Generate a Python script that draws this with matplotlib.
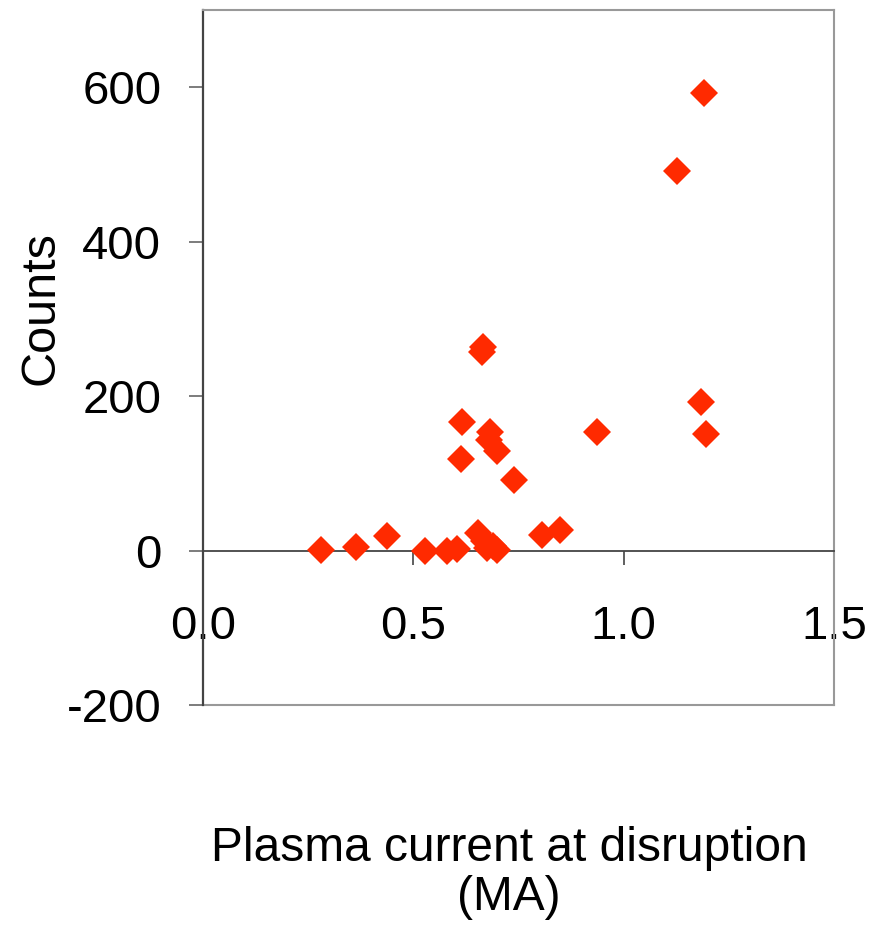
import matplotlib
matplotlib.use("Agg")
import matplotlib.pyplot as plt

# values
current_ma = [0.280, 0.363, 0.437, 0.528, 0.579, 0.603, 0.654, 0.668, 0.675, 0.690,
              0.699, 0.805, 0.849, 0.739, 0.614, 0.698, 0.680, 0.682, 0.616, 0.666,
              0.664, 0.937, 1.185, 1.195, 1.192, 1.126]
counts = [1, 4, 19, 0, 0, 2, 23, 13, 3, 6,
          1, 20, 27, 91, 119, 129, 143, 153, 167, 263,
          257, 153, 192, 151, 593, 492]

x_ticks = [0.0, 0.5, 1.0, 1.5]
x_tick_labels = ["0.0", "0.5", "1.0", "1.5"]
y_ticks = [-200, 0, 200, 400, 600]

plt.rcParams['font.family'] = ['Liberation Sans', 'DejaVu Sans']
plt.rcParams['axes.unicode_minus'] = False

fig = plt.figure(figsize=(8.86, 9.25), dpi=100)
ax = fig.add_axes([203 / 886, 220 / 925, 631 / 886, 695 / 925])

ax.plot(current_ma, counts, linestyle='none', marker='D', markersize=14,
        markeredgewidth=0, color='#ff2a00', clip_on=False, zorder=3)

ax.set_xlim(0, 1.5)
ax.set_ylim(-200, 700)

# excel style: x axis crosses at y = 0, grey frame round the plot
ax.spines['bottom'].set_position(('data', 0))
ax.spines['bottom'].set_color('#444444')
ax.spines['bottom'].set_linewidth(1.3)
ax.spines['left'].set_color('#444444')
ax.spines['left'].set_linewidth(1.6)
for side in ['top', 'right']:
    ax.spines[side].set_color('#999999')
    ax.spines[side].set_linewidth(1.5)
ax.plot([0, 1], [0, 0], transform=ax.transAxes, color='#999999', lw=1.5,
        clip_on=False)

ax.set_xticks(x_ticks)
ax.set_xticklabels(x_tick_labels)
ax.set_yticks(y_ticks)
ax.tick_params(axis='x', direction='out', length=10, width=1.2, color='#444444',
               labelsize=34, pad=29)
ax.tick_params(axis='y', direction='out', length=10, width=1.2, color='#666666',
               labelsize=34, pad=20)

fig.text(41 / 886, 1 - 308 / 925, "Counts", rotation=90, ha='center',
         va='center', fontsize=35)
fig.text(509 / 886, 1 - 873 / 925, "Plasma current at disruption\n(MA)",
         ha='center', va='center', multialignment='center', fontsize=34.5,
         linespacing=1.12)

fig.savefig("out.png", dpi=100)
